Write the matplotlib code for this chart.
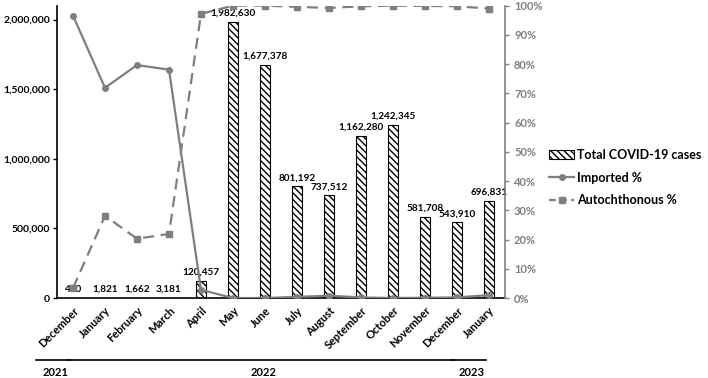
import matplotlib
matplotlib.use("Agg")
import matplotlib.pyplot as plt
import matplotlib.transforms as mtransforms
from matplotlib.patches import Patch
from matplotlib.lines import Line2D

plt.rcParams["font.family"] = ["Lato", "DejaVu Sans"]
plt.rcParams["hatch.linewidth"] = 1.0

# ---------------------------------------------------------------
# Data
# ---------------------------------------------------------------
months = ["December", "January", "February", "March", "April", "May", "June",
          "July", "August", "September", "October", "November", "December", "January"]
total_cases = [490, 1821, 1662, 3181, 120457, 1982630, 1677378,
               801192, 737512, 1162280, 1242345, 581708, 543910, 696831]
imported_pct = [96.6, 71.9, 79.7, 78.1, 2.8, 0.0, 0.0,
                0.4, 0.8, 0.2, 0.0, 0.1, 0.2, 1.0]
autoch_pct = [3.4, 28.1, 20.3, 21.9, 97.2, 100.0, 100.0,
              99.6, 99.2, 99.8, 100.0, 99.9, 99.8, 99.0]
years = [("2021", 0, 0), ("2022", 1, 12), ("2023", 13, 13)]

GRAY = "#7f7f7f"
x = list(range(len(months)))

fig = plt.figure(figsize=(7.08, 3.78), dpi=100)
ax1 = fig.add_axes([0.0805, 0.2116, 0.6328, 0.7734])
ax2 = ax1.twinx()

# bars - total cases
bars = ax1.bar(x, total_cases, width=0.34, facecolor="white", edgecolor="black",
               linewidth=0.8, hatch="\\\\\\\\\\", zorder=2)
for xi, v in zip(x, total_cases):
    ax1.annotate(f"{v:,}", xy=(xi, v), xytext=(0, 3), textcoords="offset points",
                 ha="center", va="bottom", fontsize=7.2, fontweight="bold")

ax1.set_xlim(-0.5, len(months) - 0.5)
ax1.set_ylim(0, 2100000)
ax1.set_yticks([0, 500000, 1000000, 1500000, 2000000])
ax1.set_yticklabels([f"{t:,}" for t in [0, 500000, 1000000, 1500000, 2000000]],
                    fontsize=7.5, fontweight="bold")
ax1.set_xticks(x)
ax1.set_xticklabels(months, rotation=45, ha="right", rotation_mode="anchor",
                    fontsize=8, fontweight="bold")
ax1.tick_params(axis="x", length=0, pad=5)
ax1.tick_params(axis="y", direction="out", length=3, width=1, pad=2)
ax1.spines["top"].set_visible(False)
ax1.spines["right"].set_visible(False)
ax1.spines["left"].set_linewidth(1.2)
ax1.spines["bottom"].set_linewidth(1.2)

# percentage lines
ax2.plot(x, imported_pct, color=GRAY, linewidth=1.6, marker="o", markersize=4,
         label="Imported %", zorder=3)
ax2.plot(x, autoch_pct, color=GRAY, linewidth=1.6, linestyle=(0, (5, 3)),
         marker="s", markersize=4, label="Autochthonous %", zorder=3)
ax2.set_ylim(0, 100)
ax2.set_yticks(range(0, 101, 10))
ax2.set_yticklabels([f"{t}%" for t in range(0, 101, 10)], fontsize=8, color=GRAY,
                    fontweight="bold")
ax2.tick_params(axis="y", direction="out", length=3, width=1, colors=GRAY)
ax2.spines["top"].set_visible(False)
ax2.spines["left"].set_visible(False)
ax2.spines["bottom"].set_visible(False)
ax2.spines["right"].set_color(GRAY)
ax2.spines["right"].set_linewidth(1.2)

# year brackets under the month labels
trans = mtransforms.blended_transform_factory(ax1.transData, ax1.transAxes)
for label, i, j in years:
    ax1.plot([i - 1.15, j - 0.08], [-0.212, -0.212], transform=trans, color="black",
             linewidth=1.2, clip_on=False)
    ax1.text((i + j) / 2 - 0.55, -0.255, label, transform=trans, ha="center", va="center",
             fontsize=8, fontweight="bold")

# legend
handles = [
    Patch(facecolor="white", edgecolor="black", hatch="\\\\\\\\\\", linewidth=0.8),
    Line2D([], [], color=GRAY, linewidth=1.6, marker="o", markersize=4),
    Line2D([], [], color=GRAY, linewidth=1.6, linestyle=(0, (3, 2)), marker="s", markersize=4),
]
fig.legend(handles, ["Total COVID-19 cases", "Imported %", "Autochthonous %"],
           loc="center left", bbox_to_anchor=(0.76, 0.53), frameon=False,
           prop={"size": 9, "weight": "bold"}, handlelength=2.0, handletextpad=0.2,
           labelspacing=0.85)

fig.savefig("out.png", dpi=100)
